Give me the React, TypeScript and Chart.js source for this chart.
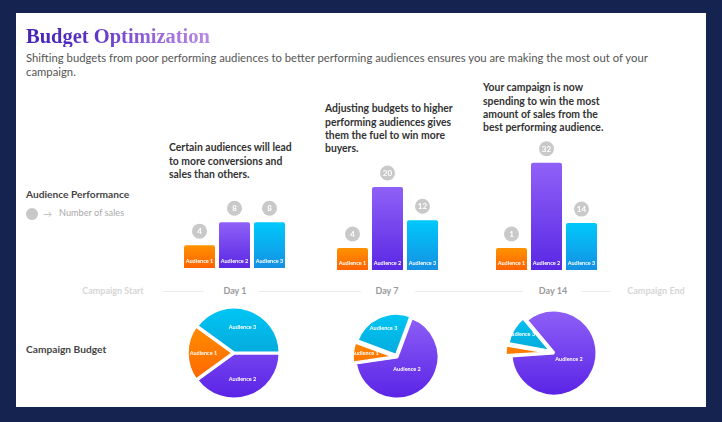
import React, { useEffect, useRef } from "react";
import { Chart, registerables } from "chart.js";

Chart.register(...registerables);

// ---------- data ----------
const AUDIENCES = ["Audience 1", "Audience 2", "Audience 3"];
const DAY1_SALES = [4, 8, 8];
const DAY7_SALES = [4, 20, 12];
const DAY14_SALES = [1, 32, 14];
const DAY1_BUDGET = [20, 40, 40];
const DAY7_BUDGET = [8, 67, 25];
const DAY14_BUDGET = [4, 85, 11];
const TIMELINE = ["Campaign Start", "Day 1", "Day 7", "Day 14", "Campaign End"];
const TITLE = "Budget Optimization";
const SUBTITLE = [
  "Shifting budgets from poor performing audiences to better performing audiences ensures you are making the most out of your",
  "campaign.",
];
const NOTE_DAY1 = ["Certain audiences will lead", "to more conversions and", "sales than others."];
const NOTE_DAY7 = [
  "Adjusting budgets to higher",
  "performing audiences gives",
  "them the fuel to win more",
  "buyers.",
];
const NOTE_DAY14 = [
  "Your campaign is now",
  "spending to win the most",
  "amount of sales from the",
  "best performing audience.",
];
const LEFT_LABELS = ["Audience Performance", "Number of sales", "Campaign Budget"];

// ---------- styles ----------
const BAR_COLORS = [
  ["#ff9200", "#ff6300"],
  ["#8f61f7", "#5a28e4"],
  ["#00c9fb", "#1590e3"],
];
const PIE_COLORS = [
  ["#ff9a00", "#ff5a00"],
  ["#8f60f7", "#5a23e6"],
  ["#00c6f5", "#0a90c4"],
];
const PIE_ORDER = [1, 0, 2];
const SANS = "Lato, 'Open Sans', sans-serif";

const barLabelPlugin = {
  id: "barLabels",
  afterDatasetsDraw(chart: any) {
    const { ctx } = chart;
    const meta = chart.getDatasetMeta(0);
    const data = chart.data.datasets[0].data;
    meta.data.forEach((bar: any, i: number) => {
      const { x, y, base } = bar.getProps(["x", "y", "base"], true);
      ctx.save();
      ctx.fillStyle = "#c9c9c9";
      ctx.beginPath();
      ctx.arc(x, y - 14, 7.5, 0, Math.PI * 2);
      ctx.fill();
      ctx.fillStyle = "#ffffff";
      ctx.textAlign = "center";
      ctx.textBaseline = "middle";
      ctx.font = "bold 8px " + SANS;
      ctx.fillText(String(data[i]), x, y - 13.5);
      ctx.font = "bold 5.5px " + SANS;
      ctx.fillText(chart.data.labels[i], x, base - 7);
      ctx.restore();
    });
  },
};

const pieLabelPlugin = {
  id: "pieLabels",
  afterDatasetsDraw(chart: any) {
    const { ctx } = chart;
    const meta = chart.getDatasetMeta(0);
    meta.data.forEach((arc: any, i: number) => {
      const { x, y, startAngle, endAngle, outerRadius } = arc.getProps(
        ["x", "y", "startAngle", "endAngle", "outerRadius"],
        true
      );
      const share = (endAngle - startAngle) / (Math.PI * 2);
      if (!(share >= 0.06)) return;
      const mid = (startAngle + endAngle) / 2;
      const f = share > 0.5 ? 0.38 : 0.6;
      const d = (arc.options.offset || 0) + f * outerRadius;
      ctx.save();
      ctx.fillStyle = "#ffffff";
      ctx.textAlign = "center";
      ctx.textBaseline = "middle";
      ctx.font = "bold 5.5px " + SANS;
      ctx.fillText(chart.data.labels[i], x + Math.cos(mid) * d, y + Math.sin(mid) * d);
      ctx.restore();
    });
  },
};

function BarChart(props: { values: number[]; yMax: number; left: number; top: number; width: number; height: number }) {
  const ref = useRef<HTMLCanvasElement>(null);
  const { values, yMax, left, top, width, height } = props;
  useEffect(() => {
    const canvas = ref.current!;
    const chart = new Chart(canvas, {
      type: "bar",
      data: {
        labels: AUDIENCES,
        datasets: [
          {
            data: values,
            backgroundColor: (c: any) => {
              const i = c.dataIndex;
              if (c.type !== "data" || i == null) return BAR_COLORS[0][0];
              const ch = c.chart;
              const y = ch.scales && ch.scales.y;
              if (!y) return BAR_COLORS[i][0];
              const base = y.getPixelForValue(0);
              const t = Math.min(y.getPixelForValue(values[i]), base - 22);
              if (!isFinite(base) || !isFinite(t) || base === t) return BAR_COLORS[i][0];
              const g = ch.ctx.createLinearGradient(0, t, 0, base);
              g.addColorStop(0, BAR_COLORS[i][0]);
              g.addColorStop(1, BAR_COLORS[i][1]);
              return g;
            },
            borderRadius: { topLeft: 2, topRight: 2, bottomLeft: 0, bottomRight: 0 },
            borderSkipped: false,
            barPercentage: 31 / 35,
            categoryPercentage: 1,
            minBarLength: 22,
          } as any,
        ],
      },
      options: {
        animation: false,
        responsive: false,
        maintainAspectRatio: false,
        events: [],
        layout: { padding: 0 },
        plugins: { legend: { display: false }, tooltip: { enabled: false } },
        scales: {
          x: { display: false },
          y: { display: false, min: 0, max: yMax },
        },
      },
      plugins: [barLabelPlugin],
    });
    return () => chart.destroy();
  }, []);
  return (
    <canvas
      ref={ref}
      width={width}
      height={height}
      style={{ position: "absolute", left, top, width, height }}
    />
  );
}

function PieChart(props: { budget: number[]; rotation: number; offsets: number[]; cx: number; cy: number; radius: number }) {
  const ref = useRef<HTMLCanvasElement>(null);
  const { budget, rotation, offsets, cx, cy, radius } = props;
  const size = 140;
  useEffect(() => {
    const canvas = ref.current!;
    const chart = new Chart(canvas, {
      type: "pie",
      data: {
        labels: PIE_ORDER.map((i) => AUDIENCES[i]),
        datasets: [
          {
            data: PIE_ORDER.map((i) => budget[i]),
            backgroundColor: (c: any) => {
              const k = c.dataIndex;
              if (c.type !== "data" || k == null) return PIE_COLORS[1][0];
              const i = PIE_ORDER[k];
              const g = c.chart.ctx.createLinearGradient(0, size / 2 - radius, 0, size / 2 + radius);
              g.addColorStop(0, PIE_COLORS[i][0]);
              g.addColorStop(1, PIE_COLORS[i][1]);
              return g;
            },
            borderColor: "#ffffff",
            borderWidth: 3,
            offset: PIE_ORDER.map((i) => offsets[i]),
            radius,
            rotation,
          } as any,
        ],
      },
      options: {
        animation: false,
        responsive: false,
        maintainAspectRatio: false,
        events: [],
        layout: { padding: 0 },
        plugins: { legend: { display: false }, tooltip: { enabled: false } },
      },
      plugins: [pieLabelPlugin],
    });
    return () => chart.destroy();
  }, []);
  return (
    <canvas
      ref={ref}
      width={size}
      height={size}
      style={{ position: "absolute", left: cx - size / 2, top: cy - size / 2, width: size, height: size }}
    />
  );
}

function Text(props: {
  x: number;
  baseline: number;
  size: number;
  lh?: number;
  weight?: number | string;
  color: string;
  family?: string;
  align?: "left" | "center";
  width?: number;
  children: React.ReactNode;
}) {
  const { x, baseline, size, weight = 400, color, family = SANS, align = "left", width = 200, children } = props;
  const lh = props.lh ?? Math.round(size * 1.3);
  const top = baseline - lh / 2 - 0.387 * size;
  const left = align === "center" ? x - width / 2 : x;
  return (
    <div
      style={{
        position: "absolute",
        left,
        top,
        width: align === "center" ? width : undefined,
        textAlign: align,
        fontFamily: family,
        fontSize: size,
        fontWeight: weight as any,
        lineHeight: lh + "px",
        color,
        whiteSpace: "nowrap",
      }}
    >
      {children}
    </div>
  );
}

function Lines({ lines }: { lines: string[] }) {
  return (
    <>
      {lines.map((l, i) => (
        <div key={i}>{l}</div>
      ))}
    </>
  );
}

const TIMELINE_X = [113, 235, 387, 553, 656];
const TIMELINE_SEGMENTS = [
  [163, 204],
  [258, 361],
  [415, 523],
  [582, 610],
];

export default function App() {
  return (
    <div
      style={{
        position: "absolute",
        left: 0,
        top: 0,
        width: 722,
        height: 422,
        background: "#152350",
        overflow: "hidden",
      }}
    >
      <div style={{ position: "absolute", left: 16, top: 13, width: 690, height: 394, background: "#ffffff" }} />

      {/* title */}
      <div
        style={{
          position: "absolute",
          left: 26,
          top: 43 - 11 - 0.3375 * 20.5,
          fontFamily: "'Liberation Serif', serif",
          fontWeight: 700,
          fontSize: 20.5,
          lineHeight: "22px",
          whiteSpace: "nowrap",
          background: "linear-gradient(90deg, #4424b4 0%, #5a33c6 35%, #9866da 70%, #b98ae2 100%)",
          WebkitBackgroundClip: "text",
          backgroundClip: "text",
          color: "transparent",
        }}
      >
        {TITLE}
      </div>

      <Text x={26} baseline={62.5} size={11.3} lh={13.8} color="#555555">
        <Lines lines={SUBTITLE} />
      </Text>

      {/* notes */}
      <Text x={169} baseline={152} size={10.4} lh={13.5} weight={700} color="#333333">
        <Lines lines={NOTE_DAY1} />
      </Text>
      <Text x={325} baseline={113} size={10.4} lh={13.4} weight={700} color="#333333">
        <Lines lines={NOTE_DAY7} />
      </Text>
      <Text x={483} baseline={92} size={10.4} lh={13.4} weight={700} color="#333333">
        <Lines lines={NOTE_DAY14} />
      </Text>

      {/* left labels */}
      <Text x={26} baseline={198} size={10.2} weight={700} color="#444444">
        {LEFT_LABELS[0]}
      </Text>
      <div
        style={{
          position: "absolute",
          left: 26,
          top: 208,
          width: 12,
          height: 12,
          borderRadius: 6,
          background: "#c8c8c8",
        }}
      />
      <Text x={43} baseline={217} size={9} color="#bbbbbb">
        {"\u2192"}
      </Text>
      <Text x={59} baseline={217} size={9.2} color="#aaaaaa">
        {LEFT_LABELS[1]}
      </Text>
      <Text x={26} baseline={353} size={10.2} weight={700} color="#444444">
        {LEFT_LABELS[2]}
      </Text>

      {/* timeline */}
      {TIMELINE_SEGMENTS.map(([a, b], i) => (
        <div
          key={i}
          style={{ position: "absolute", left: a, top: 291, width: b - a, height: 1, background: "#ececec" }}
        />
      ))}
      {TIMELINE.map((t, i) => (
        <Text
          key={t}
          x={TIMELINE_X[i]}
          baseline={294.5}
          size={9}
          weight={700}
          align="center"
          width={100}
          color={i === 0 || i === 4 ? "#d6d6d6" : "#9a9a9a"}
        >
          {t}
        </Text>
      ))}

      {/* bar charts */}
      <BarChart values={DAY1_SALES} yMax={14} left={182} top={188} width={105} height={80} />
      <BarChart values={DAY7_SALES} yMax={27} left={335} top={158} width={105} height={112} />
      <BarChart values={DAY14_SALES} yMax={40} left={494} top={136} width={105} height={134} />

      {/* pie charts */}
      <PieChart budget={DAY1_BUDGET} rotation={90} offsets={[3, 0, 0]} cx={234} cy={353} radius={46} />
      <PieChart budget={DAY7_BUDGET} rotation={20.4} offsets={[7, 0, 7]} cx={397} cy={357} radius={42} />
      <PieChart budget={DAY14_BUDGET} rotation={-40} offsets={[13, 0, 12]} cx={554} cy={353} radius={43} />
    </div>
  );
}
